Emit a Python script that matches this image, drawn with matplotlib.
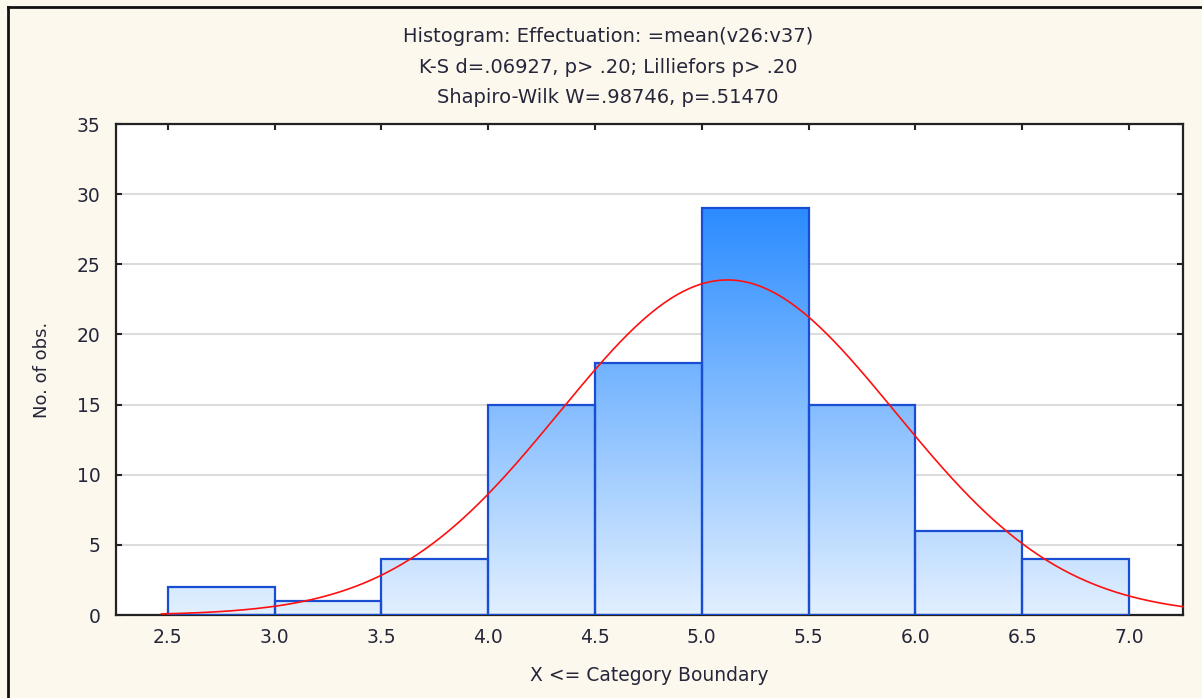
import matplotlib
matplotlib.use('Agg')
import matplotlib.pyplot as plt
import numpy as np
from matplotlib.colors import LinearSegmentedColormap
from matplotlib.lines import Line2D

plt.rcParams['font.family'] = ['DejaVu Sans']

# histogram data (category boundaries and counts)
bin_edges = [2.5, 3.0, 3.5, 4.0, 4.5, 5.0, 5.5, 6.0, 6.5, 7.0]
counts = [2, 1, 4, 15, 18, 29, 15, 6, 4]
# fitted normal curve parameters
fit_mean = 5.12
fit_sd = 0.785
x_ticks = [2.5, 3.0, 3.5, 4.0, 4.5, 5.0, 5.5, 6.0, 6.5, 7.0]
y_ticks = [0, 5, 10, 15, 20, 25, 30, 35]
title_lines = ["Histogram: Effectuation: =mean(v26:v37)",
               "K-S d=.06927, p> .20; Lilliefors p> .20",
               "Shapiro-Wilk W=.98746, p=.51470"]

bg = '#fdf8ee'
text_col = '#26263a'

fig = plt.figure(figsize=(12.02, 6.98), dpi=100, facecolor=bg)
ax = fig.add_axes([0.0965, 0.1189, 0.8877, 0.7034])
ax.set_facecolor('white')

xlim = (2.257, 7.253)
ylim = (0, 35)

# gradient fill, clipped to each bar
cmap = LinearSegmentedColormap.from_list('bars', ['#e2f0ff', '#2b8cff'])
grad = np.linspace(0, 1, 256).reshape(-1, 1)
width = bin_edges[1] - bin_edges[0]
bars = ax.bar(bin_edges[:-1], counts, width=width, align='edge',
              facecolor='none', edgecolor='#1a4ed2', linewidth=1.6, zorder=3)
for b in bars:
    im = ax.imshow(grad, cmap=cmap, origin='lower', aspect='auto',
                   extent=(xlim[0], xlim[1], 0, max(counts)), zorder=2)
    im.set_clip_path(b)

# normal curve
n_obs = sum(counts)
xs = np.linspace(2.47, xlim[1], 400)
ys = n_obs * width * np.exp(-0.5 * ((xs - fit_mean) / fit_sd) ** 2) / (fit_sd * np.sqrt(2 * np.pi))
ax.plot(xs, ys, color='#ff1010', linewidth=1.2, zorder=5, clip_on=False)

ax.set_xlim(*xlim)
ax.set_ylim(*ylim)
ax.set_xticks(x_ticks)
ax.set_xticklabels([f'{v:.1f}' for v in x_ticks])
ax.set_yticks(y_ticks)
ax.yaxis.grid(True, color='#dcdcdc', linewidth=1.5, zorder=0)
ax.set_axisbelow(True)
ax.tick_params(direction='in', length=4, width=1.5, top=True, right=True,
               labelsize=13.5, labelcolor=text_col, color='#222222')
ax.tick_params(axis='x', pad=9)
ax.tick_params(axis='y', pad=11)
for s in ax.spines.values():
    s.set_color('#222222')
    s.set_linewidth(1.6)

ax.set_xlabel('X <= Category Boundary', fontsize=13.5, color=text_col, labelpad=14)
ax.set_ylabel('No. of obs.', fontsize=13, color=text_col, labelpad=19)

for yy, line in zip([0.947, 0.904, 0.860], title_lines):
    fig.text(0.506, yy, line, ha='center', va='center', fontsize=14, color=text_col)

# outer frame lines (left and top)
fig.add_artist(Line2D([0.007, 0.007], [0, 0.99], transform=fig.transFigure, color='#111111', linewidth=2))
fig.add_artist(Line2D([0.007, 1.0], [0.99, 0.99], transform=fig.transFigure, color='#111111', linewidth=2))

fig.savefig('out.png', dpi=100, facecolor=bg)
